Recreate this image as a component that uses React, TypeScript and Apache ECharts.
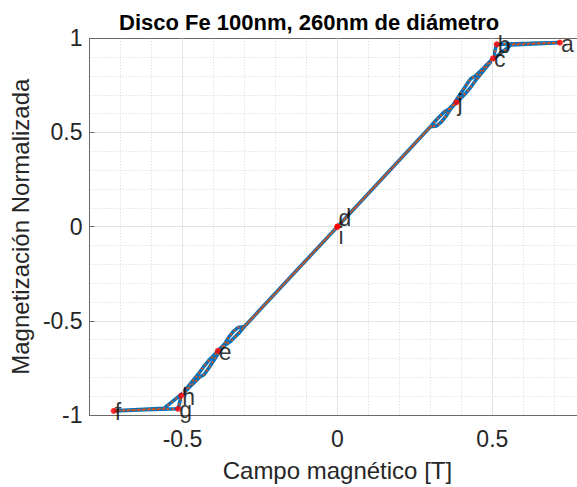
import React, { useEffect, useRef } from "react";
import * as echarts from "echarts";

const titleText = "Disco Fe 100nm, 260nm de diámetro";
const xName = "Campo magnético [T]";
const yName = "Magnetización Normalizada";

const xMajorTicks = [-0.5, 0, 0.5];

const descendingBranch: [number, number][] = [
  [0.72, 0.978], [0.62, 0.973], [0.514, 0.968], [0.502, 0.893], [0.47, 0.84],
  [0.445, 0.8], [0.43, 0.785], [0.415, 0.75], [0.395, 0.7], [0.375, 0.65],
  [0.36, 0.625], [0.345, 0.61], [0.33, 0.585], [0.315, 0.56], [0.3, 0.53],
  [0.15, 0.265], [0, 0], [-0.15, -0.265], [-0.3, -0.53], [-0.32, -0.535],
  [-0.335, -0.555], [-0.35, -0.585], [-0.365, -0.625], [-0.386, -0.659],
  [-0.4, -0.685], [-0.415, -0.71], [-0.43, -0.74], [-0.45, -0.785],
  [-0.5, -0.885], [-0.56, -0.965], [-0.722, -0.978],
];

const ascendingBranch: [number, number][] = [
  [-0.722, -0.978], [-0.62, -0.972], [-0.514, -0.967], [-0.504, -0.897], [-0.47, -0.84],
  [-0.445, -0.8], [-0.43, -0.785], [-0.415, -0.75], [-0.395, -0.7], [-0.375, -0.65],
  [-0.36, -0.625], [-0.345, -0.61], [-0.33, -0.585], [-0.315, -0.56], [-0.3, -0.53],
  [-0.15, -0.265], [0, 0], [0.15, 0.265], [0.3, 0.53], [0.32, 0.535],
  [0.335, 0.555], [0.35, 0.585], [0.365, 0.625], [0.384, 0.66],
  [0.4, 0.685], [0.415, 0.71], [0.43, 0.74], [0.45, 0.785],
  [0.5, 0.885], [0.56, 0.965], [0.718, 0.977],
];

const pointLabels = ["a", "b", "c", "d", "e", "f", "g", "h", "i", "j"];
const pointX = [0.718, 0.514, 0.502, 0, -0.386, -0.722, -0.514, -0.504, 0, 0.384];
const pointY = [0.977, 0.968, 0.893, 0, -0.659, -0.978, -0.967, -0.897, 0, 0.66];

const FONT = "'Liberation Sans', Arial, Helvetica, sans-serif";
const AXIS_COLOR = "#6a6a6a";
const MAJOR_GRID = "#e3e3e3";
const MINOR_GRID = "#d6d6d6";

export default function App() {
  const ref = useRef<HTMLDivElement>(null);

  useEffect(() => {
    if (!ref.current) return;
    const chart = echarts.init(ref.current, undefined, { renderer: "svg" });
    const loop = descendingBranch.concat(ascendingBranch.slice(1));

    const labelOffsets: Record<string, [number, number]> = {
      d: [0, -9],
      i: [0, 9],
    };

    const points = pointLabels.map((l, i) => ({
      value: [pointX[i], pointY[i]],
      label: {
        show: true,
        formatter: l,
        position: "right",
        distance: -2,
        offset: labelOffsets[l] || [0, 1],
        color: "#000",
        fontSize: 23,
        fontFamily: FONT,
      },
    }));

    const baseX = {
      type: "value",
      min: -0.8,
      max: 0.8,
      gridIndex: 0,
    };

    chart.setOption({
      animation: false,
      backgroundColor: "#fff",
      title: {
        text: titleText,
        left: 114,
        top: 6,
        textStyle: { fontFamily: FONT, fontWeight: "bold", fontSize: 22, color: "#000" },
      },
      grid: { left: 87.7, top: 38.3, width: 497.6, height: 376.7 },
      xAxis: [
        {
          ...baseX,
          interval: 0.1,
          axisLine: { show: false },
          axisTick: { show: false },
          axisLabel: { show: false },
          splitLine: { show: true, lineStyle: { color: MINOR_GRID, width: 1, type: [1, 2] } },
        },
        {
          ...baseX,
          position: "bottom",
          name: xName,
          nameLocation: "middle",
          nameGap: 43,
          nameTextStyle: { fontFamily: FONT, fontSize: 24, color: "#262626" },
          axisLine: { show: true, onZero: false, lineStyle: { color: AXIS_COLOR, width: 1 } },
          axisTick: { show: true, inside: true, length: 5, customValues: xMajorTicks, lineStyle: { color: AXIS_COLOR } },
          axisLabel: {
            show: true,
            customValues: xMajorTicks,
            margin: 12,
            fontFamily: FONT,
            fontSize: 23,
            color: "#262626",
          },
          splitLine: { show: false },
        },
        {
          ...baseX,
          position: "top",
          axisLine: { show: true, onZero: false, lineStyle: { color: AXIS_COLOR, width: 1 } },
          axisTick: { show: true, inside: true, length: 5, customValues: xMajorTicks, lineStyle: { color: AXIS_COLOR } },
          axisLabel: { show: false },
          splitLine: { show: false },
        },
      ],
      yAxis: [
        {
          type: "value",
          min: -1,
          max: 1,
          interval: 0.5,
          name: yName,
          nameLocation: "middle",
          nameGap: 52,
          nameTextStyle: { fontFamily: FONT, fontSize: 24, color: "#262626" },
          axisLine: { show: true, onZero: false, lineStyle: { color: AXIS_COLOR, width: 1 } },
          axisTick: { show: true, inside: true, length: 5, lineStyle: { color: AXIS_COLOR } },
          axisLabel: { margin: 7, fontFamily: FONT, fontSize: 23, color: "#262626" },
          splitLine: { show: true, lineStyle: { color: MAJOR_GRID, width: 1 } },
          minorTick: { show: false, splitNumber: 5 },
          minorSplitLine: { show: true, lineStyle: { color: MINOR_GRID, width: 1, type: [1, 2] } },
        },
      ],
      series: [
        {
          type: "line",
          xAxisIndex: 1,
          data: [],
          silent: true,
          z: 1,
          markLine: {
            silent: true,
            symbol: "none",
            label: { show: false },
            lineStyle: { color: MAJOR_GRID, width: 1, type: "solid" },
            data: xMajorTicks.map((v) => ({ xAxis: v })),
          },
        },
        {
          type: "line",
          xAxisIndex: 1,
          data: loop,
          showSymbol: false,
          z: 3,
          lineStyle: { color: "#0072BD", width: 3.6 },
        },
        {
          type: "line",
          xAxisIndex: 1,
          data: loop,
          showSymbol: false,
          z: 4,
          lineStyle: { color: "#D95319", width: 2, type: [2, 3] },
        },
        {
          type: "scatter",
          xAxisIndex: 1,
          data: points,
          symbol: "circle",
          symbolSize: 6,
          z: 5,
          itemStyle: { color: "#ff0000" },
        },
      ],
    });

    return () => chart.dispose();
  }, []);

  return (
    <div
      ref={ref}
      style={{ position: "fixed", left: 0, top: 0, width: 600, height: 487, background: "#fff" }}
    />
  );
}
